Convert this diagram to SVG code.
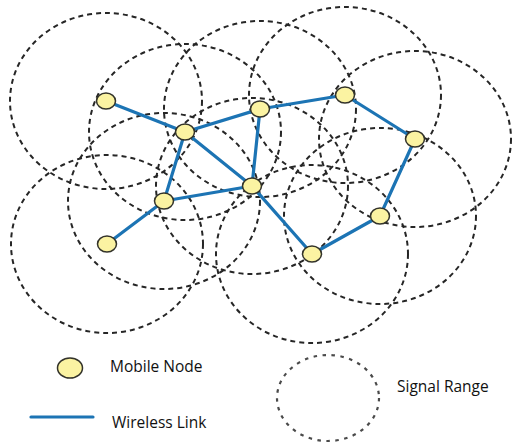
<svg xmlns="http://www.w3.org/2000/svg" width="522" height="443" viewBox="0 0 522 443">
<style>
.range{fill:none;stroke:#262626;stroke-width:2;stroke-dasharray:5 4}
.link{stroke:#1c74b4;stroke-width:3.2;stroke-linecap:round}
.node{fill:#fbf3a2;stroke:#33332a;stroke-width:1.5}
.lbl{font-family:"Open Sans","Noto Sans",sans-serif;font-size:15.5px;fill:#111}
</style>
<rect width="522" height="443" fill="#ffffff"/>
<g id="ranges">
<ellipse class="range" cx="106" cy="101" rx="96" ry="88"/>
<ellipse class="range" cx="185" cy="132" rx="96" ry="88"/>
<ellipse class="range" cx="260" cy="109" rx="96" ry="88"/>
<ellipse class="range" cx="345" cy="95" rx="96" ry="88"/>
<ellipse class="range" cx="415" cy="139" rx="96" ry="88"/>
<ellipse class="range" cx="252" cy="186" rx="96" ry="88"/>
<ellipse class="range" cx="164" cy="201" rx="96" ry="88"/>
<ellipse class="range" cx="107" cy="244" rx="96" ry="89"/>
<ellipse class="range" cx="380" cy="216" rx="96" ry="88"/>
<ellipse class="range" cx="312" cy="254" rx="96" ry="89"/>
</g>
<g id="connectors">
<line class="link" x1="106" y1="101" x2="185" y2="132"/>
<line class="link" x1="185" y1="132" x2="260" y2="109"/>
<line class="link" x1="260" y1="109" x2="345" y2="95"/>
<line class="link" x1="345" y1="95" x2="415" y2="139"/>
<line class="link" x1="415" y1="139" x2="380" y2="216"/>
<line class="link" x1="380" y1="216" x2="312" y2="254"/>
<line class="link" x1="312" y1="254" x2="252" y2="186"/>
<line class="link" x1="252" y1="186" x2="260" y2="109"/>
<line class="link" x1="252" y1="186" x2="185" y2="132"/>
<line class="link" x1="252" y1="186" x2="164" y2="201"/>
<line class="link" x1="164" y1="201" x2="185" y2="132"/>
<line class="link" x1="164" y1="201" x2="107" y2="244"/>
</g>
<g id="n1"><ellipse class="node" cx="106" cy="101" rx="9.5" ry="8"/></g>
<g id="n2"><ellipse class="node" cx="185" cy="132" rx="9.5" ry="8"/></g>
<g id="n3"><ellipse class="node" cx="260" cy="109" rx="9.5" ry="8"/></g>
<g id="n4"><ellipse class="node" cx="345" cy="95" rx="9.5" ry="8"/></g>
<g id="n5"><ellipse class="node" cx="415" cy="139" rx="9.5" ry="8"/></g>
<g id="n6"><ellipse class="node" cx="252" cy="186" rx="9.5" ry="8"/></g>
<g id="n7"><ellipse class="node" cx="164" cy="201" rx="9.5" ry="8"/></g>
<g id="n8"><ellipse class="node" cx="107" cy="244" rx="9.5" ry="8"/></g>
<g id="n9"><ellipse class="node" cx="380" cy="216" rx="9.5" ry="8"/></g>
<g id="n10"><ellipse class="node" cx="312" cy="254" rx="9.5" ry="8"/></g>
<g id="legend">
<ellipse class="node" cx="70" cy="368" rx="12.5" ry="10" stroke-width="2.2"/>
<text class="lbl" x="110" y="372">Mobile Node</text>
<line class="link" x1="31" y1="417" x2="93" y2="417" stroke-width="3.6"/>
<text class="lbl" x="112" y="428">Wireless Link</text>
<ellipse cx="328" cy="398" rx="51" ry="43" fill="none" stroke="#4a4a4a" stroke-width="2.2" stroke-dasharray="3.5 5.5"/>
<text class="lbl" x="397" y="392">Signal Range</text>
</g>
</svg>
